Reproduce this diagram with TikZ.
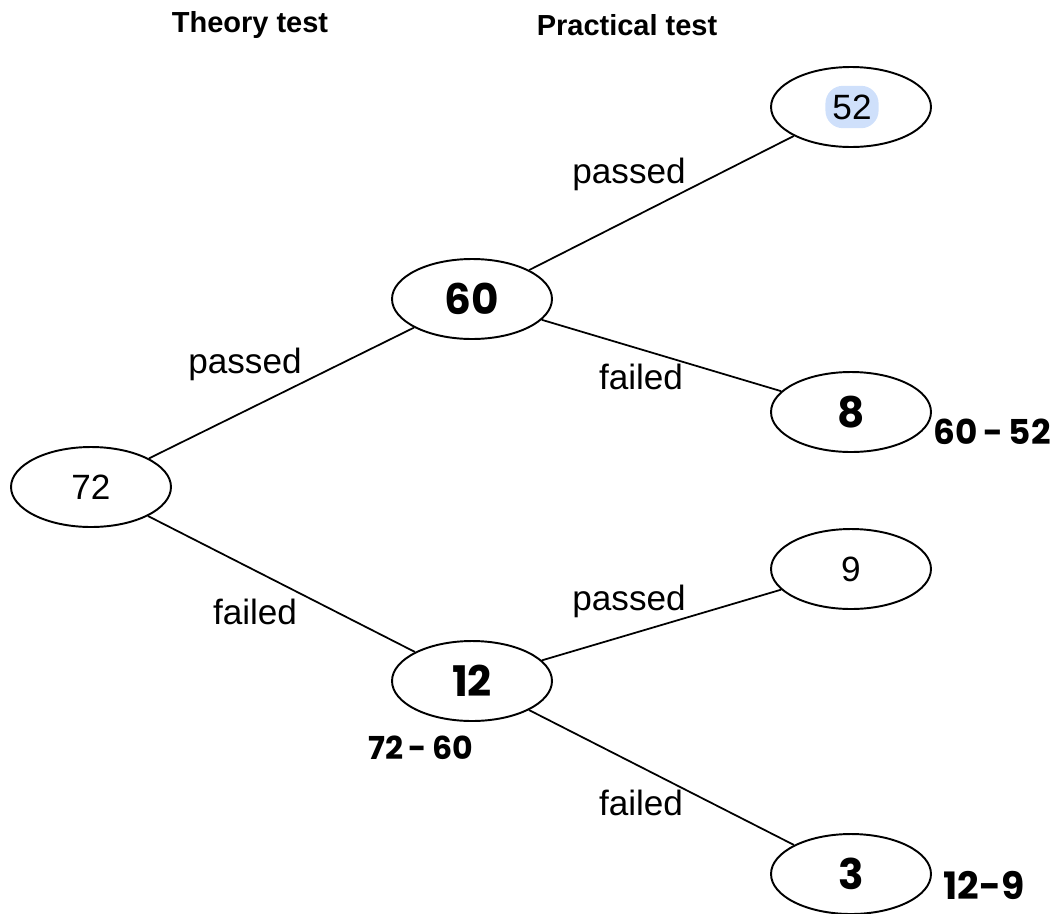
\documentclass[tikz,border=0pt]{standalone}
\usepackage{fontspec}
\setmainfont{Liberation Sans}
\newfontfamily\handfont{Poppins}
\usetikzlibrary{shapes.geometric}
\definecolor{hlblue}{RGB}{207,224,251}
\tikzset{
  oval/.style={ellipse, draw, line width=1.1pt, minimum width=3.2cm, minimum height=1.6cm, inner sep=0pt},
  txt/.style={font=\fontsize{20}{24}\selectfont},
  hand/.style={font=\handfont\bfseries\fontsize{24}{28}\selectfont},
}
\begin{document}
\begin{tikzpicture}[x=0.02cm, y=-0.02cm]
  \useasboundingbox (0,0) rectangle (1057,913);

      \node[font=\fontsize{16.5}{20}\selectfont\bfseries] (theory) at (250,25) {Theory test};
      \node[font=\fontsize{16.5}{20}\selectfont\bfseries] (practical) at (627,25) {Practical test};

      \node[txt, fill=hlblue, rounded corners=10pt, inner xsep=4pt, inner ysep=5pt] (hl) at (852,107) {52};

      \begin{scope}[every node/.style={oval}]
        \node[txt] (72) at (91,487)  {72};
        \node[hand] (60) at (472,299) {60};
        \node (52) at (851,107) {};
        \node[hand] (8)  at (851,412) {8};
        \node[hand] (12) at (472,681) {12};
        \node[txt] (9)  at (851,569) {9};
        \node[hand] (3)  at (851,874) {3};
      \end{scope}

      \begin{scope}[line width=1pt]
        \path (72) edge (60);
        \path (72) edge (12);
        \path (60) edge (52);
        \path (60) edge (8);
        \path (12) edge (9);
        \path (12) edge (3);
      \end{scope}

      \begin{scope}[every node/.style={txt}]
        \node (p1) at (245,364) {passed};
        \node (f1) at (255,612) {failed};
        \node (p2) at (629,174) {passed};
        \node (f2) at (641,377) {failed};
        \node (p3) at (629,601) {passed};
        \node (f3) at (641,803) {failed};
      \end{scope}

      \node[font=\handfont\bfseries\fontsize{19.5}{23}\selectfont] (s1) at (992,432) {60\,-\,52};
      \node[font=\handfont\bfseries\fontsize{18}{22}\selectfont] (s2) at (421,748) {72\,-\,60};
      \node[font=\handfont\bfseries\fontsize{21.5}{25}\selectfont] (s3) at (984,885) {12-9};

    \end{tikzpicture}
\end{document}
